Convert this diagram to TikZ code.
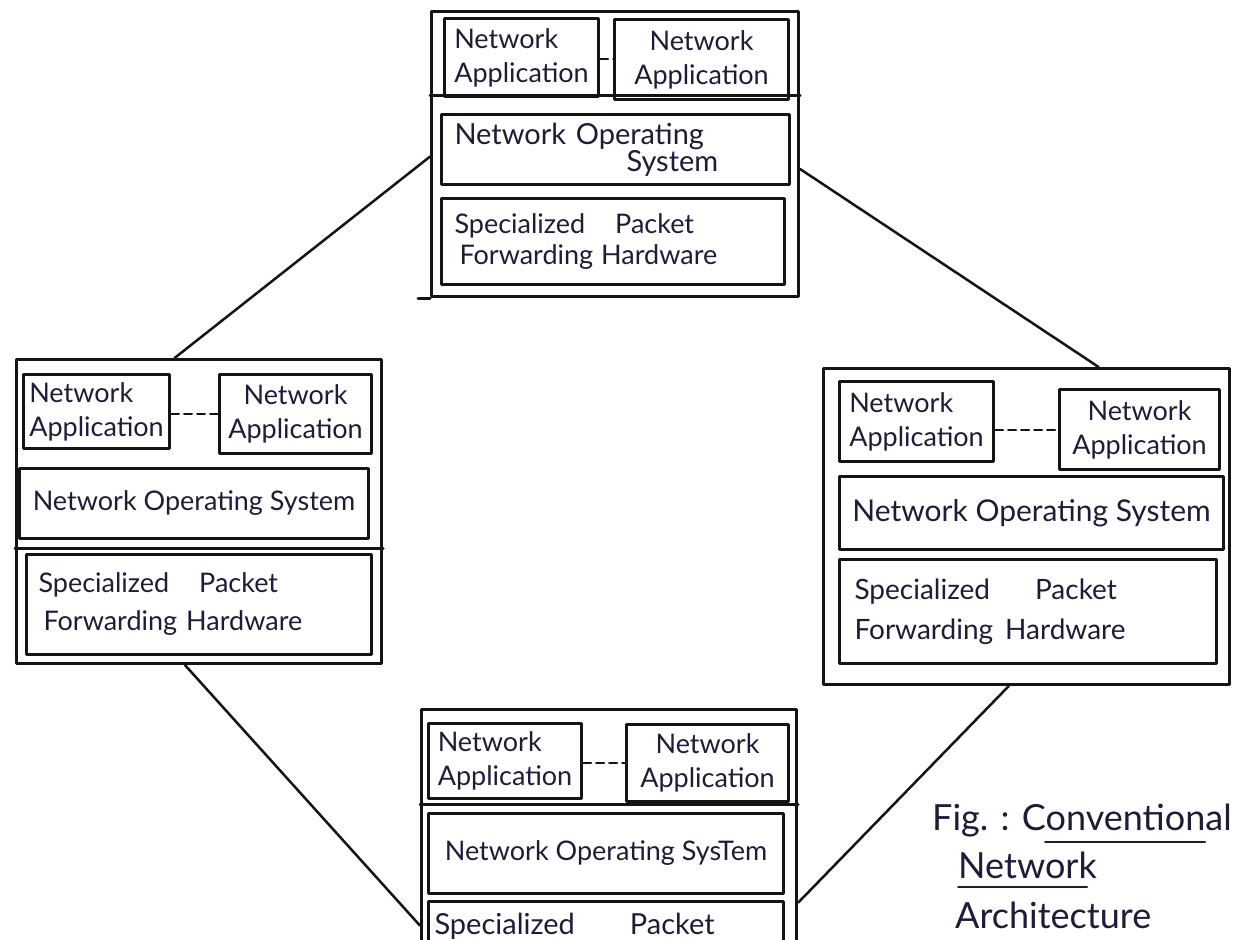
\documentclass[tikz,border=0pt]{standalone}
\usepackage{fontspec}
\setmainfont{Lato}
\usetikzlibrary{calc}
\definecolor{pen}{HTML}{141414}
\definecolor{ink}{HTML}{1C1D38}
\begin{document}
\begin{tikzpicture}[
  x=1pt, y=-1pt,
  line cap=round, line join=round,
  frame/.style={draw=pen, line width=3.2pt, inner sep=0pt, anchor=north west},
  layer/.style={draw=pen, line width=3pt, anchor=north west, inner ysep=0pt,
                text=ink, font=\fontsize{27}{34}\selectfont},
  wh/.style 2 args={minimum width=#1pt, minimum height=#2pt},
  rule/.style={draw=pen, line width=3pt},
  link/.style={draw=pen, line width=2.5pt},
  dots/.style={draw=pen, line width=2pt, dash pattern=on 8pt off 5pt},
  caption/.style={anchor=base west, inner sep=0pt, text=ink, font=\fontsize{36}{40}\selectfont},
  uline/.style={draw=ink, line width=2pt},
]
\useasboundingbox (0,0) rectangle (1241,939);
\fill[white] (0,0) rectangle (1241,939);
\clip (0,0) rectangle (1241,939);

% ---------- top device ----------
\node[frame, wh={367}{285}] (T) at (430,10) {};
\node[layer, wh={154}{78}, align=left] (tA1) at (443,17) {Network\\Application};
\node[layer, wh={174}{80}, align=center] (tA2) at (613,18) {Network\\Application};
\node[layer, wh={348}{70}, inner xsep=13pt, text width=322pt, align=left,
      font=\fontsize{29}{27}\selectfont] (tNOS) at (440,113)
      {Network Operating\\\hspace*{172pt}System};
\node[layer, wh={343}{86}, inner xsep=13pt, text width=317pt, align=left,
      font=\fontsize{27}{31}\selectfont] (tHW) at (440,197)
      {Specialized\hspace{30pt}Packet\\\hspace*{5pt}Forwarding\hspace{8pt}Hardware};
\draw[dots] (tA2.west -| tA1.east) -- (tA2.west);
\draw[rule] ([yshift=-86pt]T.north west) -- ([yshift=-86pt]T.north east);
\draw[rule] (T.south west) -- ++(-12,0);

% ---------- left device ----------
\node[frame, wh={365}{304}] (L) at (15,358) {};
\node[layer, wh={146}{74}, align=left] (lA1) at (22,373) {Network\\Application};
\node[layer, wh={152}{79}, align=center] (lA2) at (218,373) {Network\\Application};
\node[layer, wh={349}{70}, align=center] (lNOS) at (18,467) {Network Operating System};
\node[layer, wh={345}{100}, inner xsep=12pt, text width=321pt, align=left,
      font=\fontsize{27}{38}\selectfont] (lHW) at (25,553)
      {Specialized\hspace{30pt}Packet\\\hspace*{5pt}Forwarding Hardware};
\draw[dots] (lA2.west -| lA1.east) -- (lA2.west);
\draw[rule] ([yshift=-190pt]L.north west) -- ([yshift=-190pt]L.north east);

% ---------- right device ----------
\node[frame, wh={406}{316}] (R) at (822,367) {};
\node[layer, wh={154}{80}, align=left] (rA1) at (838,380) {Network\\Application};
\node[layer, wh={160}{80}, align=center] (rA2) at (1058,388) {Network\\Application};
\node[layer, wh={384}{73}, align=center, font=\fontsize{30}{34}\selectfont] (rNOS) at (838,475)
      {Network Operating System};
\node[layer, wh={377}{104}, inner xsep=15pt, text width=347pt, align=left,
      font=\fontsize{28}{40}\selectfont] (rHW) at (838,558)
      {Specialized\hspace{45pt}Packet\\Forwarding\hspace{12pt}Hardware};
\draw[dots] (rA2.west -| rA1.east) -- (rA2.west);

% ---------- bottom device ----------
\node[frame, wh={375}{300}] (B) at (420,708) {};
\node[layer, wh={153}{75}, align=left] (bA1) at (427,722) {Network\\Application};
\node[layer, wh={162}{77}, align=center] (bA2) at (625,723) {Network\\Application};
\node[layer, wh={355}{80}, align=center] (bNOS) at (427,812) {Network Operating SysTem};
\node[layer, wh={355}{50}, inner xsep=6pt, text width=343pt, align=left,
      font=\fontsize{29}{34}\selectfont] (bHW) at (427,900)
      {Specialized\hspace{55pt}Packet};
\draw[dots] (bA2.west -| bA1.east) -- (bA2.west);
\draw[rule] ([yshift=-96pt]B.north west) -- ([yshift=-96pt]B.north east);

% ---------- links between devices ----------
\draw[link] ([yshift=-2.5pt]T.west) -- ([xshift=-24.5pt]L.north);
\draw[link] ([yshift=-15pt]T.east) -- ([xshift=72pt]R.north);
\draw[link] ([xshift=-14pt]L.south) -- ([yshift=-66pt]B.west);
\draw[link] ([yshift=-43pt]B.east) -- ([xshift=-18pt]R.south);

% ---------- caption ----------
\node[caption] (cap1) at (932,830) {Fig. : Conventional};
\node[caption] (cap2) at (958,878) {Network};
\node[caption] (cap3) at (955,928) {Architecture};
\draw[uline] ([xshift=113pt,yshift=-12pt]cap1.base west) -- ([xshift=273pt,yshift=-12pt]cap1.base west);
\draw[uline] ([yshift=-9pt]cap2.base west) -- ([xshift=129pt,yshift=-9pt]cap2.base west);
\end{tikzpicture}
\end{document}
